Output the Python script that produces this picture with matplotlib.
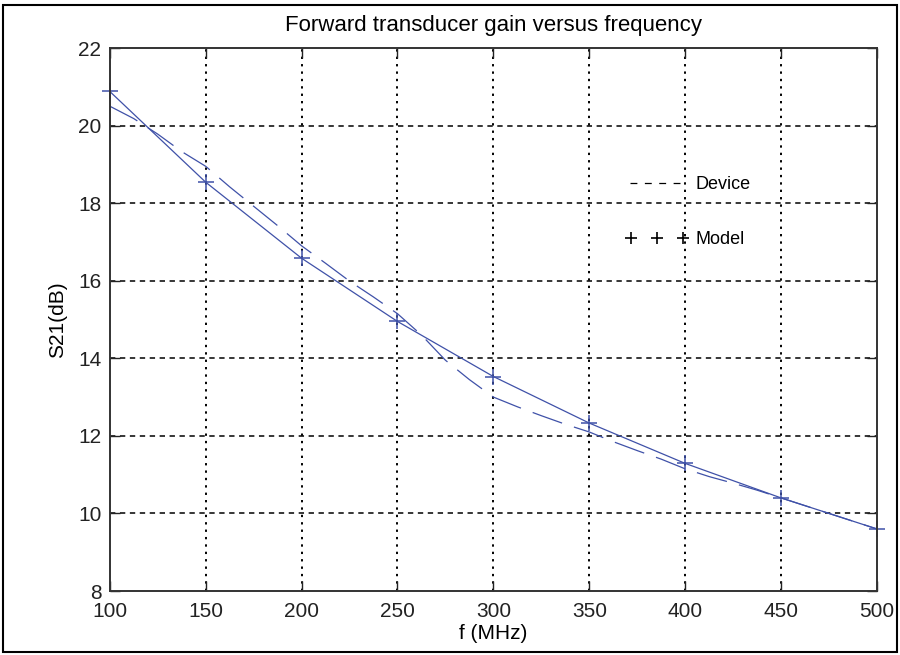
import matplotlib
matplotlib.use("Agg")
import matplotlib.pyplot as plt
from matplotlib.lines import Line2D
from matplotlib.patches import Rectangle
from matplotlib.legend_handler import HandlerLine2D

# Model points (+ markers)
model_f = [100, 150, 200, 250, 300, 350, 400, 450, 500]
model_s21 = [20.88, 18.54, 16.58, 14.95, 13.53, 12.33, 11.29, 10.40, 9.60]

# Device (measured) curve
device_f = [100, 112.5, 125, 137.5, 150, 162.5, 175, 187.5, 200, 212.5, 225,
            237.5, 250, 262.5, 275, 287.5, 300, 312.5, 325, 337.5, 350, 362.5,
            375, 387.5, 400, 412.5, 425, 437.5, 450, 462.5, 475, 487.5, 500]
device_s21 = [20.50, 20.18, 19.78, 19.33, 18.95, 18.42, 17.92, 17.42, 16.90,
              16.45, 15.99, 15.58, 15.15, 14.60, 13.95, 13.45, 13.00, 12.75,
              12.52, 12.30, 12.10, 11.85, 11.62, 11.40, 11.15, 10.95, 10.78,
              10.60, 10.40, 10.20, 10.00, 9.80, 9.60]

x_ticks = [100, 150, 200, 250, 300, 350, 400, 450, 500]
y_ticks = [8, 10, 12, 14, 16, 18, 20, 22]

fam = ['Liberation Sans', 'DejaVu Sans']

fig = plt.figure(figsize=(9, 6.55), dpi=100)
ax = fig.add_axes([0.122, 0.0977, 0.8524, 0.829])

line_col = '#3f51a8'
ax.plot(device_f, device_s21, color=line_col, lw=0.9, linestyle=(0, (25, 10)))
ax.plot(model_f, model_s21, color=line_col, lw=0.9, marker='+', ms=11,
        mew=1.1, clip_on=False)

ax.set_xlim(100, 500)
ax.set_ylim(8, 22)
ax.set_xticks(x_ticks)
ax.set_yticks(y_ticks)
ax.set_xticklabels([str(v) for v in x_ticks], family=fam, fontsize=15)
ax.set_yticklabels([str(v) for v in y_ticks], family=fam, fontsize=15)

# grid
for xv in x_ticks[1:-1]:
    ax.axvline(xv, color='black', lw=1.4, linestyle=(0, (1.2, 2.6)), zorder=0)
for yv in y_ticks[1:-1]:
    ax.axhline(yv, color='black', lw=1.1, linestyle=(0, (3.5, 3.0)), zorder=0)

ax.tick_params(direction='in', top=True, right=True, length=7, width=1,
               colors='#222222')
ax.tick_params(axis='x', pad=8)
ax.tick_params(axis='y', pad=6)
for s in ax.spines.values():
    s.set_color('#333333')
    s.set_linewidth(1.4)

ax.set_title('Forward transducer gain versus frequency', family=fam,
             fontsize=16, pad=12)
ax.set_xlabel('f (MHz)', family=fam, fontsize=15, labelpad=2)
ax.set_ylabel('S21(dB)', family=fam, fontsize=15, labelpad=8)

h_dev = Line2D([], [], color='black', lw=0.9, linestyle=(0, (5.5, 6)))
h_mod = Line2D([], [], color='black', lw=1.0, marker='+', ms=8.5, mew=1.2,
               linestyle='none')
ax.legend([h_dev, h_mod], ['Device', 'Model'], loc='center left',
          bbox_to_anchor=(0.65, 0.698), frameon=False, numpoints=3,
          handlelength=3.6, labelspacing=2.1, handletextpad=0.3,
          handler_map={h_mod: HandlerLine2D(numpoints=3, marker_pad=0.35)},
          prop={'family': fam, 'size': 13})

fig.patches.append(Rectangle((0.003, 0.004), 0.994, 0.989,
                             transform=fig.transFigure, fill=False,
                             edgecolor='black', lw=1.5))

fig.savefig('out.png', dpi=100)
